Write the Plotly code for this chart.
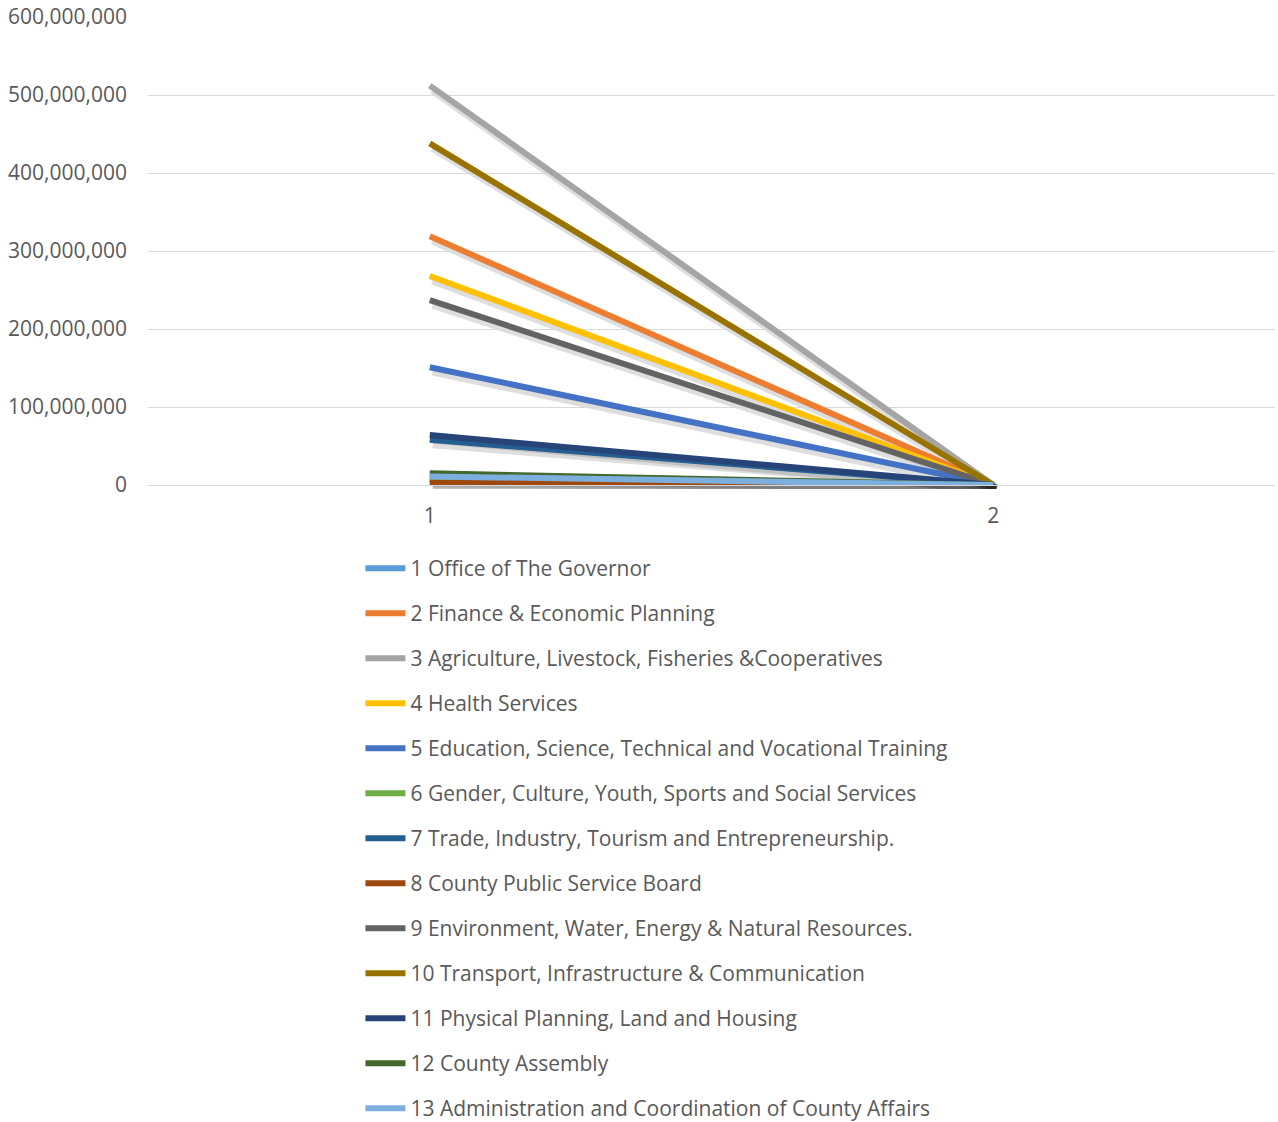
import plotly.graph_objects as go

categories = [1, 2]
series_names = [
    "1 Office of The Governor",
    "2 Finance & Economic Planning",
    "3 Agriculture, Livestock, Fisheries &Cooperatives",
    "4 Health Services",
    "5 Education, Science, Technical and Vocational Training",
    "6 Gender, Culture, Youth, Sports and Social Services",
    "7 Trade, Industry, Tourism and Entrepreneurship.",
    "8 County Public Service Board",
    "9 Environment, Water, Energy & Natural Resources.",
    "10 Transport, Infrastructure & Communication",
    "11 Physical Planning, Land and Housing",
    "12 County Assembly",
    "13 Administration and Coordination of County Affairs",
]
values_at_1 = [6000000, 319000000, 512000000, 268000000, 151000000, 8000000,
               58000000, 3000000, 237000000, 438000000, 64000000, 15000000, 11000000]
values_at_2 = [0, 0, 0, 0, 0, 0, 0, 0, 0, 0, 0, 0, 0]
colors = ["#5B9BD5", "#ED7D31", "#A5A5A5", "#FFC000", "#4472C4", "#70AD47",
          "#255E91", "#9E480E", "#636363", "#997300", "#264478", "#43682B", "#7CAFDD"]
y_ticks = [0, 100000000, 200000000, 300000000, 400000000, 500000000, 600000000]

W, H = 1278, 1122
L, R, T, B = 148, 0, 17, 633
pw, ph = W - L - R, H - T - B
dx, dy = 3, 4  # shadow offset in pixels

fig = go.Figure()
# soft shadows (drawn in the lower subplot, offset right/down)
for i, name in enumerate(series_names):
    fig.add_trace(go.Scatter(
        x=categories, y=[values_at_1[i], values_at_2[i]],
        mode="lines", showlegend=False, hoverinfo="skip",
        line=dict(color="rgba(0,0,0,0.13)", width=9),
        xaxis="x", yaxis="y",
    ))
for i, name in enumerate(series_names):
    fig.add_trace(go.Scatter(
        x=categories, y=[values_at_1[i], values_at_2[i]],
        mode="lines", name=name, legendgroup=f"g{i}",
        line=dict(color=colors[i], width=6),
        xaxis="x2", yaxis="y2",
    ))

font_family = "Open Sans, Noto Sans, sans-serif"
fig.update_layout(
    width=W, height=H,
    margin=dict(l=L, r=R, t=T, b=B, autoexpand=False),
    plot_bgcolor="rgba(0,0,0,0)", paper_bgcolor="white",
    font=dict(family=font_family, color="#595959", size=21),
    xaxis=dict(domain=[dx / pw, 1], range=[0.5, 2.5], visible=False, anchor="y"),
    yaxis=dict(domain=[0, 1 - dy / ph], range=[0, 600000000], visible=False, anchor="x"),
    xaxis2=dict(domain=[0, 1 - dx / pw], anchor="y2", range=[0.5, 2.5],
                tickvals=categories, ticktext=["1", "2"],
                showgrid=False, zeroline=False, showline=True,
                linecolor="#D9D9D9", linewidth=1, ticks="", ticklabelstandoff=12,
                tickfont=dict(size=21, color="#595959")),
    yaxis2=dict(domain=[dy / ph, 1], anchor="x2", range=[0, 600000000], tickvals=y_ticks,
                ticktext=[f"{v:,}" for v in y_ticks],
                showgrid=True, gridcolor="#D9D9D9", gridwidth=1,
                zeroline=False, showline=False, ticks="", ticklabelstandoff=20,
                tickfont=dict(size=21, color="#595959")),
    showlegend=True,
    legend=dict(orientation="v", x=0.188, xanchor="left",
                yref="container", y=1 - 548 / H, yanchor="top",
                traceorder="grouped", tracegroupgap=14.7, maxheight=640,
                font=dict(size=21, color="#595959", family=font_family),
                itemwidth=40, bgcolor="rgba(0,0,0,0)"),
)

fig.write_html("out.html")
